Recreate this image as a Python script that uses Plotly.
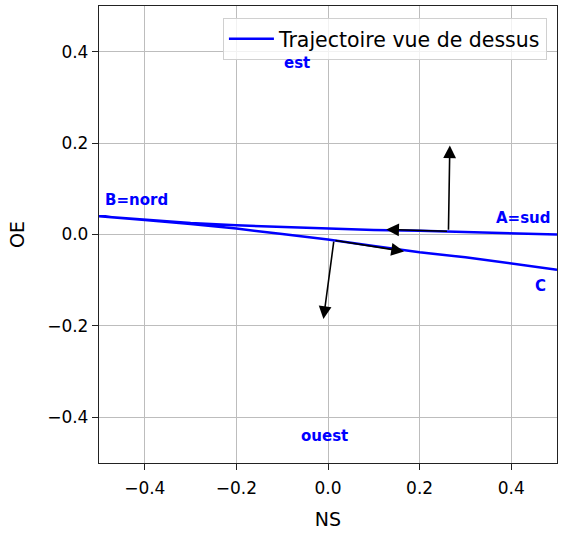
import plotly.graph_objects as go

# Trajectory: A (sud) -> B (nord) -> C
traj_x = [0.5, 0.4, 0.3, 0.2, 0.1, 0.0, -0.1, -0.2, -0.3, -0.4, -0.5,
          -0.4, -0.3, -0.2, -0.1, 0.0, 0.1, 0.2, 0.3, 0.4, 0.5]
traj_y = [0.0, 0.003, 0.006, 0.008, 0.010, 0.013, 0.016, 0.020, 0.025, 0.032, 0.040,
          0.032, 0.023, 0.013, 0.001, -0.011, -0.025, -0.039, -0.050, -0.063, -0.077]

# Arrows: base (x0, y0) -> tip (x1, y1)
arrow_x0 = [0.263, 0.263, 0.013, 0.013]
arrow_y0 = [0.007, 0.007, -0.0125, -0.0125]
arrow_x1 = [0.127, 0.266, 0.166, -0.010]
arrow_y1 = [0.011, 0.195, -0.037, -0.185]

# Text labels
label_text = ["est", "ouest", "B=nord", "A=sud", "C"]
label_x = [-0.068, -0.007, -0.419, 0.427, 0.463]
label_y = [0.375, -0.441, 0.075, 0.037, -0.112]

tick_vals = [-0.4, -0.2, 0.0, 0.2, 0.4]
tick_text = ["\u22120.4", "\u22120.2", "0.0", "0.2", "0.4"]

FONT = "DejaVu Sans"

fig = go.Figure()
fig.add_trace(go.Scatter(
    x=traj_x, y=traj_y, mode="lines", name="Trajectoire vue de dessus",
    line=dict(color="#0000ff", width=2.5),
))

annotations = []
for x0, y0, x1, y1 in zip(arrow_x0, arrow_y0, arrow_x1, arrow_y1):
    annotations.append(dict(
        x=x1, y=y1, ax=x0, ay=y0, xref="x", yref="y", axref="x", ayref="y",
        showarrow=True, arrowhead=2, arrowsize=1.6, arrowwidth=1.6,
        arrowcolor="black", standoff=0, startstandoff=0, text="",
    ))
for t, x, y in zip(label_text, label_x, label_y):
    annotations.append(dict(
        x=x, y=y, xref="x", yref="y", text="<b>%s</b>" % t, showarrow=False,
        font=dict(family=FONT, size=15, color="#0000ff"),
        xanchor="center", yanchor="middle",
    ))

axis_common = dict(
    range=[-0.5, 0.5], tickvals=tick_vals, ticktext=tick_text,
    showgrid=True, gridcolor="#bdbdbd", gridwidth=1.3,
    zeroline=False, showline=True, mirror=True, linecolor="#222222", linewidth=1.3,
    ticks="outside", ticklen=6, tickwidth=1.3, tickcolor="#222222",
    tickfont=dict(family=FONT, size=17, color="black"),
    automargin=False,
)

fig.update_layout(
    width=567, height=533,
    margin=dict(l=99, r=10, t=6, b=70),
    plot_bgcolor="white", paper_bgcolor="white",
    font=dict(family=FONT, size=17, color="black"),
    xaxis=dict(title=dict(text="NS", font=dict(family=FONT, size=19), standoff=16),
               ticklabelstandoff=3, **axis_common),
    yaxis=dict(title=dict(text="OE", font=dict(family=FONT, size=19), standoff=17), **axis_common),
    showlegend=True,
    legend=dict(x=0.978, y=0.974, xanchor="right", yanchor="top", itemwidth=45,
                bgcolor="rgba(255,255,255,0.8)", bordercolor="#d0d0d0", borderwidth=1,
                font=dict(family=FONT, size=20.5, color="black")),
    annotations=annotations,
)

fig.write_html("out.html", config={"displayModeBar": False},
               post_script="document.body.style.margin='0';")
